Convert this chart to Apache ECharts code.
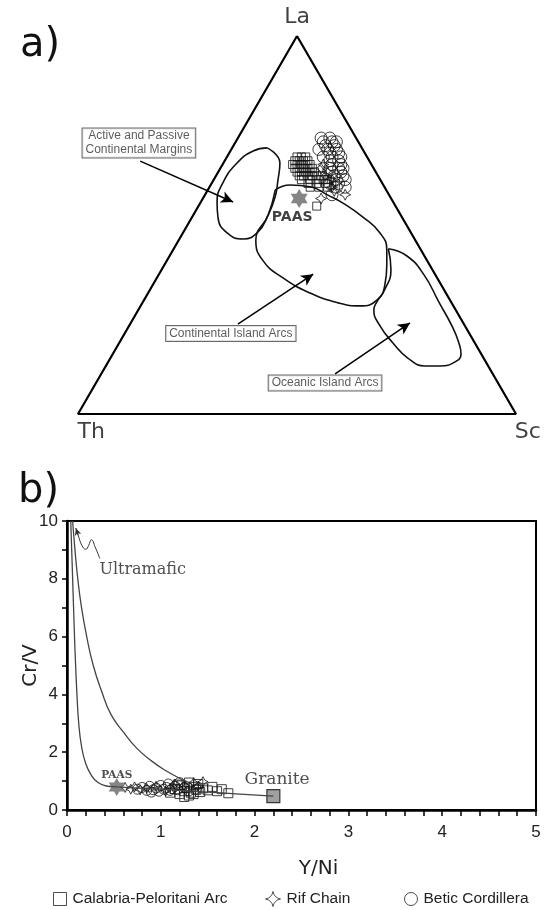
<!DOCTYPE html>
<html><head><meta charset="utf-8">
<script src="https://cdn.jsdelivr.net/npm/echarts@6/dist/echarts.min.js"></script>
<style>html,body{margin:0;padding:0;background:#fff}#c{width:545px;height:910px}</style>
</head><body><div id="c"></div>
<script>
// ================= Panel a: La–Th–Sc ternary (each entry [La, Th, Sc] in %) =================
const ternaryVertices = [[100,0,0],[0,100,0],[0,0,100]];
const fieldActiveMargins = [[70.4,21.6,8.0],[66.4,20.7,12.9],[61.9,23.4,14.7],[57.4,26.3,16.3],[52.6,30.3,17.1],[48.1,34.9,17.0],[46.3,39.1,14.6],[47.9,42.0,10.1],[52.1,42.0,5.9],[56.1,40.2,3.7],[61.1,36.4,2.5],[66.4,30.5,3.1],[69.6,25.2,5.2]];
const fieldContinentalArcs = [[59.3,25.3,15.4],[60.6,21.3,18.1],[60.1,16.9,23.0],[57.9,14.0,28.1],[55.8,11.6,32.6],[52.1,8.9,39.0],[47.9,7.1,45.0],[43.4,7.8,48.8],[39.4,9.8,50.8],[34.1,12.9,53.0],[30.2,16.6,53.2],[28.6,21.3,50.1],[29.4,25.9,44.7],[32.0,31.0,37.0],[36.0,35.2,28.8],[40.7,37.5,21.8],[46.0,36.4,17.6],[52.6,30.3,17.1]];
const fieldOceanicArcs = [[43.7,7.3,49.0],[41.8,4.0,54.2],[36.8,2.6,60.6],[29.6,2.8,67.6],[22.8,3.0,74.2],[19.0,3.6,77.4],[15.9,4.6,79.5],[13.8,7.0,79.2],[12.7,11.0,76.3],[12.7,14.4,72.9],[14.8,17.3,67.9],[18.8,18.7,62.5],[23.5,19.4,57.1],[27.5,18.7,53.8],[29.6,17.0,53.4],[32.8,13.6,53.6],[38.1,9.5,52.4]];
const ternCalabria = [[68,16,16],[68,15,17],[68,14,18],[67,17,16],[67,16,17],[67,15,18],[67,14,19],[66,18,16],[66,17,17],[66,16,18],[66,15,19],[66,14,20],[65,18,17],[65,17,18],[65,16,19],[65,15,20],[65,14,21],[64,18,18],[64,17,19],[64,16,20],[64,15,21],[64,14,22],[63,18,19],[63,17,20],[63,16,21],[63,15,22],[63,14,23],[63,13,24],[62,18,20],[62,16,22],[62,14,24],[62,13,25],[62,12,26],[61,17,22],[61,15,24],[61,13,26],[60,17,23],[60,15,25],[60,13,27],[55,18,27]];
const ternBetic = [[73,8,19],[73,6,21],[72,8,20],[72,6,22],[72,5,23],[71,8,21],[71,6,23],[70,10,20],[70,8,22],[70,6,24],[69,8,23],[69,6,25],[68,10,22],[68,8,24],[68,6,26],[67,9,24],[67,7,26],[66,9,25],[66,7,27],[65,10,25],[65,8,27],[65,7,28],[64,10,26],[64,8,28],[63,10,27],[63,8,29],[62,10,28],[62,8,30],[61,12,27],[61,10,29],[60,11,29],[60,9,31],[58,13,29]];
const ternRif = [[66,11,23],[65,12,23],[64,11,25],[63,12,25],[62,11,27],[61,11,28],[60,12,28],[59,12,29],[57,16,27],[58,10,32]];
const ternPAAS = [[57,21,22]];

// ================= Panel b: Cr/V vs Y/Ni =================
const curveLower = [[0.04,10],[0.05,9],[0.06,8],[0.07,7],[0.08,6],[0.092,5],[0.106,4],[0.125,3],[0.155,2.2],[0.2,1.6],[0.26,1.2],[0.33,0.95],[0.42,0.83],[0.53,0.8],[1.0,0.72],[1.5,0.62],[1.8,0.56],[2.2,0.48]];
const curveUpper = [[0.06,10],[0.085,9],[0.115,8],[0.155,7],[0.21,6],[0.28,5],[0.37,4.1],[0.47,3.3],[0.6,2.7],[0.74,2.15],[0.9,1.7],[1.06,1.35],[1.2,1.1],[1.3,0.95]];
const ultramaficPointer = [[0.35,8.7],[0.3,9.1],[0.26,9.35],[0.23,9.15],[0.2,9.02],[0.16,9.15],[0.12,9.5],[0.095,9.75]];
const crBetic = [[0.75,0.72],[0.8,0.78],[0.85,0.68],[0.88,0.82],[0.92,0.7],[0.95,0.76],[0.98,0.65],[1.0,0.85],[1.03,0.72],[1.06,0.78],[1.08,0.9],[1.1,0.68],[1.12,0.74],[1.15,0.82],[1.18,0.7],[1.2,0.95],[1.25,0.78],[1.3,0.66],[1.38,0.72],[0.9,0.62]];
const crCalabria = [[1.1,0.6],[1.15,0.72],[1.2,0.55],[1.22,0.85],[1.25,0.45],[1.25,0.65],[1.28,0.75],[1.3,0.95],[1.32,0.6],[1.35,0.55],[1.35,0.8],[1.38,0.7],[1.4,0.9],[1.42,0.62],[1.45,0.75],[1.5,0.68],[1.55,0.8],[1.6,0.65],[1.65,0.72],[1.72,0.58],[1.18,0.88],[1.3,0.5]];
const crRif = [[0.62,0.78],[0.68,0.72],[0.72,0.8],[0.78,0.7],[0.85,0.75],[0.95,0.82],[1.05,0.65],[1.15,0.9],[1.25,0.85],[1.35,0.95],[1.45,0.98],[1.4,0.82]];
const crPAAS = [[0.53,0.8]];
const crGranite = [[2.2,0.48]];
const xTickLabels = [0,1,2,3,4,5];
const yTickLabels = [0,2,4,6,8,10];
const seriesNames = ['Calabria-Peloritani Arc','Rif Chain','Betic Cordillera'];

// ---------- annotation anchors (ternary plot cartesian: x = base fraction, y = La fraction) ----------
const vertexLabels = [{text:'La', at:[0.5,1.05]},{text:'Th', at:[0.03,-0.048]},{text:'Sc', at:[1.027,-0.048]}];
const fieldLabels = [
  {text:'Active and Passive\nContinental Margins', at:[0.139,0.717], from:[0.142,0.669], to:[0.354,0.561]},
  {text:'Continental Island Arcs', at:[0.349,0.213], from:[0.365,0.238], to:[0.537,0.370]},
  {text:'Oceanic Island Arcs', at:[0.564,0.082], from:[0.587,0.106], to:[0.758,0.241]}
];

const tern = p => { const s = p[0]+p[1]+p[2]; return [(p[2] + p[0]/2)/s, p[0]/s]; };
const loop = arr => arr.concat([arr[0]]).map(tern);

const SANS = 'Liberation Sans';
const hexagram = 'path://M0,-10 L2.9,-5 L8.66,-5 L5.77,0 L8.66,5 L2.9,5 L0,10 L-2.9,5 L-8.66,5 L-5.77,0 L-8.66,-5 L-2.9,-5 Z';
const star4 = 'path://M0,-10 Q1.6,-1.6 10,0 Q1.6,1.6 0,10 Q-1.6,1.6 -10,0 Q-1.6,-1.6 0,-10 Z';
const hollow = {color:'rgba(255,255,255,0)', borderColor:'#111', borderWidth:1};
const legendIcons = ['rect', star4, 'circle'];
const legendLefts = [48, 260, 399];

const chart = echarts.init(document.getElementById('c'), null, {renderer:'canvas'});
const fieldLine = {color:'#111', width:1.6};
const textPoint = (at, text, style) => ({value: at, label: Object.assign({show:true, position:'inside', formatter:text}, style)});

chart.setOption({
  animation:false,
  backgroundColor:'#fff',
  grid:[
    {left:78, right:29, top:36, bottom:496},
    {left:67, right:9, top:521, bottom:100, show:true, borderColor:'#000', borderWidth:2}
  ],
  xAxis:[
    {gridIndex:0, type:'value', min:0, max:1, show:false},
    {gridIndex:1, type:'value', min:0, max:5, interval:0.2,
     axisLine:{lineStyle:{color:'#000', width:2.5}},
     axisTick:{length:6, lineStyle:{color:'#000', width:1.5}},
     splitLine:{show:false},
     axisLabel:{margin:14, fontSize:17, color:'#222', fontFamily:SANS,
       formatter:v=>{const r=Math.round(v); return (Math.abs(v-r)<1e-6 && xTickLabels.includes(r)) ? String(r) : '';}},
     name:'Y/Ni', nameLocation:'middle', nameGap:49, nameMoveOverlap:false,
     nameTextStyle:{fontSize:20, color:'#222', fontFamily:'DejaVu Sans', padding:[0,0,0,34]}}
  ],
  yAxis:[
    {gridIndex:0, type:'value', min:0, max:1, show:false},
    {gridIndex:1, type:'value', min:0, max:10, interval:1,
     axisLine:{lineStyle:{color:'#000', width:2.5}},
     axisTick:{length:5, lineStyle:{color:'#000', width:1.5}},
     splitLine:{show:false},
     axisLabel:{margin:9, fontSize:17, color:'#222', fontFamily:SANS,
       formatter:v=>{const r=Math.round(v); return (Math.abs(v-r)<1e-6 && yTickLabels.includes(r)) ? String(r) : '';}},
     name:'Cr/V', nameLocation:'middle', nameGap:26, nameMoveOverlap:false,
     nameTextStyle:{fontSize:20, color:'#222', fontFamily:'DejaVu Sans'}}
  ],
  legend: seriesNames.map((n,i)=>({top:886, left:legendLefts[i], itemWidth:i===1?15:13, itemHeight:i===1?15:13, itemGap:0,
    data:[{name:n, icon:legendIcons[i]}],
    itemStyle:{color:'rgba(255,255,255,0)', borderColor:'#222', borderWidth:1},
    textStyle:{fontSize:15.5, color:'#222', fontFamily:SANS, padding:[0,0,0,1]}})),
  graphic:[
    {type:'text', left:20, top:26, style:{text:'a)', fontSize:40, fontFamily:'DejaVu Sans', fill:'#111'}},
    {type:'text', left:18, top:472, style:{text:'b)', fontSize:40, fontFamily:'DejaVu Sans', fill:'#111'}}
  ],
  series:[
    // ---- panel a ----
    {type:'line', xAxisIndex:0, yAxisIndex:0, data:loop(ternaryVertices), symbol:'none', silent:true, clip:false,
     lineStyle:{color:'#000', width:2.2},
     markLine:{silent:true, symbol:['none','arrow'], symbolSize:[9,12], label:{show:false},
       lineStyle:{color:'#000', width:1.5, type:'solid'},
       data: fieldLabels.map(l=>[{coord:l.from},{coord:l.to}])}},
    {type:'line', xAxisIndex:0, yAxisIndex:0, data:loop(fieldActiveMargins), smooth:0.5, symbol:'none', silent:true, lineStyle:fieldLine},
    {type:'line', xAxisIndex:0, yAxisIndex:0, data:loop(fieldContinentalArcs), smooth:0.5, symbol:'none', silent:true, lineStyle:fieldLine},
    {type:'line', xAxisIndex:0, yAxisIndex:0, data:loop(fieldOceanicArcs), smooth:0.5, symbol:'none', silent:true, lineStyle:fieldLine},
    {name:seriesNames[0], type:'scatter', xAxisIndex:0, yAxisIndex:0, data:ternCalabria.map(tern), symbol:'rect', symbolSize:8, itemStyle:hollow},
    {name:seriesNames[2], type:'scatter', xAxisIndex:0, yAxisIndex:0, data:ternBetic.map(tern), symbol:'circle', symbolSize:12, itemStyle:hollow},
    {name:seriesNames[1], type:'scatter', xAxisIndex:0, yAxisIndex:0, data:ternRif.map(tern), symbol:star4, symbolSize:11, itemStyle:hollow},
    {type:'scatter', xAxisIndex:0, yAxisIndex:0, data:ternPAAS.map(tern), symbol:hexagram, symbolSize:[17,19], itemStyle:{color:'#666'}, silent:true},
    {type:'scatter', xAxisIndex:0, yAxisIndex:0, symbolSize:1, itemStyle:{color:'rgba(0,0,0,0)'}, silent:true, clip:false,
     data:[
       ...vertexLabels.map(v=>textPoint(v.at, v.text, {fontSize:22, color:'#111', fontFamily:'DejaVu Sans'})),
       ...fieldLabels.map(l=>textPoint(l.at, l.text, {fontSize:12, lineHeight:14, color:'#333', fontFamily:SANS, align:'center',
          backgroundColor:'#fff', borderColor:'#444', borderWidth:1, padding:[1,3,0,3]})),
       textPoint([0.489,0.521], 'PAAS', {fontSize:14, fontWeight:'bold', color:'#111', fontFamily:'DejaVu Sans'})
     ]},
    // ---- panel b ----
    {type:'line', xAxisIndex:1, yAxisIndex:1, data:curveLower, smooth:0.5, symbol:'none', silent:true,
     lineStyle:{color:'#444', width:1.3}},
    {type:'line', xAxisIndex:1, yAxisIndex:1, data:curveUpper, smooth:0.5, symbol:'none', silent:true,
     lineStyle:{color:'#444', width:1.3}},
    {type:'line', xAxisIndex:1, yAxisIndex:1, data:ultramaficPointer, smooth:0.5, symbol:'none', silent:true,
     lineStyle:{color:'#333', width:1},
     markLine:{silent:true, symbol:['none','arrow'], symbolSize:[5,7], label:{show:false},
       lineStyle:{color:'#333', width:1, type:'solid'},
       data:[[{coord:ultramaficPointer[ultramaficPointer.length-2]},{coord:ultramaficPointer[ultramaficPointer.length-1]}]]}},
    {name:seriesNames[2], type:'scatter', xAxisIndex:1, yAxisIndex:1, data:crBetic, symbol:'circle', symbolSize:10, itemStyle:hollow},
    {name:seriesNames[0], type:'scatter', xAxisIndex:1, yAxisIndex:1, data:crCalabria, symbol:'rect', symbolSize:9, itemStyle:hollow},
    {name:seriesNames[1], type:'scatter', xAxisIndex:1, yAxisIndex:1, data:crRif, symbol:star4, symbolSize:10, itemStyle:hollow},
    {type:'scatter', xAxisIndex:1, yAxisIndex:1, data:crPAAS, symbol:hexagram, symbolSize:[16,18], itemStyle:{color:'#666'}, silent:true},
    {type:'scatter', xAxisIndex:1, yAxisIndex:1, data:crGranite, symbol:'rect', symbolSize:13, itemStyle:{color:'#888', borderColor:'#111', borderWidth:1.2}, silent:true},
    {type:'scatter', xAxisIndex:1, yAxisIndex:1, symbolSize:1, itemStyle:{color:'rgba(0,0,0,0)'}, silent:true, clip:false,
     data:[
       {value:[0.34,8.3], label:{show:true, position:'right', distance:0, formatter:'Ultramafic', fontSize:16, color:'#222', fontFamily:'DejaVu Serif'}},
       textPoint([2.24,1.05], 'Granite', {fontSize:17, color:'#222', fontFamily:'DejaVu Serif'}),
       textPoint([0.53,1.21], 'PAAS', {fontSize:10.5, fontWeight:'bold', color:'#222', fontFamily:'DejaVu Serif'})
     ]}
  ]
});
</script>
</body></html>
